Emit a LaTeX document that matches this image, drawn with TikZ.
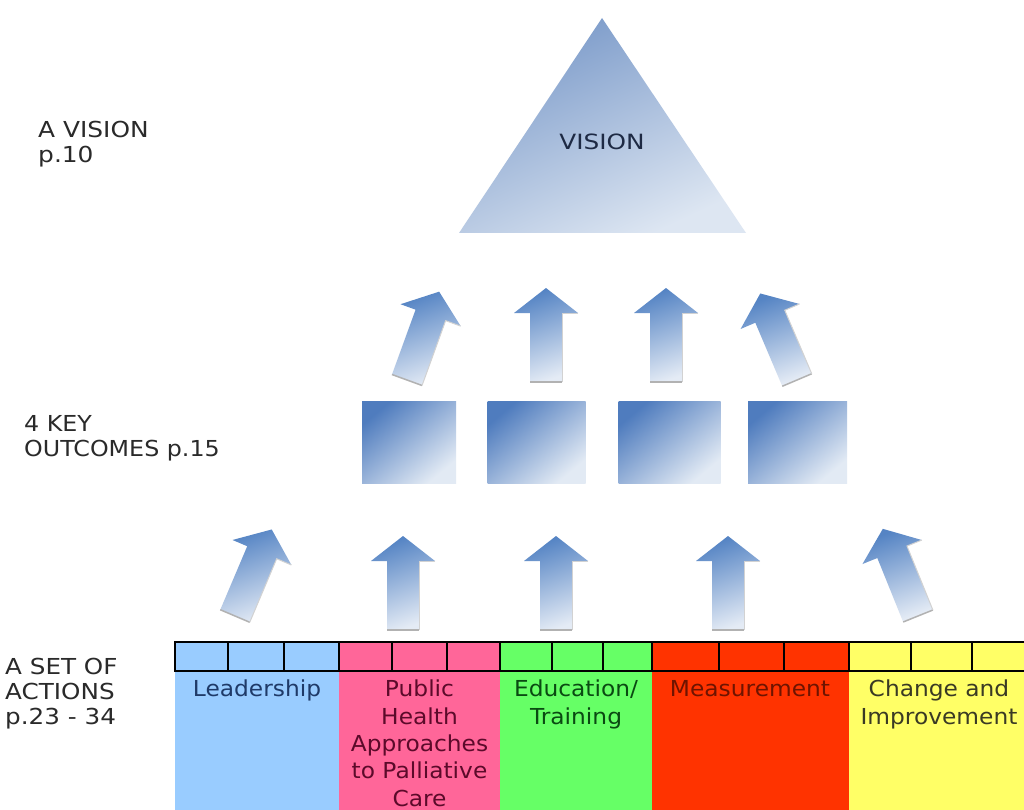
\documentclass[tikz,border=0pt]{standalone}
\usepackage{fontspec}
\setmainfont{DejaVu Sans}
\definecolor{labgray}{HTML}{2A2A2A}
\definecolor{tridark}{HTML}{7898C8}
\definecolor{trilight}{HTML}{DDE6F2}
\definecolor{boxdark}{HTML}{4F7CBE}
\definecolor{boxlight}{HTML}{E2EAF4}
\definecolor{arrdark}{HTML}{5584C4}
\definecolor{arrlight}{HTML}{E4EBF5}
\definecolor{cblue}{HTML}{99CCFF}
\definecolor{cpink}{HTML}{FF6699}
\definecolor{cgreen}{HTML}{66FF66}
\definecolor{cred}{HTML}{FF3300}
\definecolor{cyellow}{HTML}{FFFF66}
\definecolor{tblue}{HTML}{1F3A68}
\definecolor{tpink}{HTML}{5C0A2A}
\definecolor{tgreen}{HTML}{0A4A12}
\definecolor{tred}{HTML}{6E1400}
\definecolor{tyellow}{HTML}{3A3A24}
\definecolor{vistext}{HTML}{1E2A44}
\begin{document}
\begin{tikzpicture}[x=1pt,y=-1pt,
  lab/.style={font=\fontsize{22}{25}\selectfont, text=labgray, inner sep=0pt, anchor=north west, align=left, xscale=#1},
  lab/.default=1.06,
  coltext/.style={font=\fontsize{22}{27.3}\selectfont, inner sep=0pt, anchor=north, align=center, xscale=1.06},
  outbox/.style={draw=none, shade, top color=boxdark, bottom color=boxlight, shading angle=40, minimum width=#1, minimum height=82pt, inner sep=0pt},
  arrowshade/.style={shade, top color=arrdark, bottom color=arrlight, shading angle=20},
  cell/.style={draw=black, line width=1.3pt},
  uparrow/.pic={
    \shade[arrowshade] (-16,0) -- (-16,-69) -- (-32,-69) -- (0,-94) -- (32,-69) -- (16,-69) -- (16,0) -- cycle;
    \draw[gray!60, line width=1.5pt] (-16,0) -- (16,0);
    \draw[gray!35, line width=1pt] (16,0) -- (16,-69) -- (32,-69);
  }]
\useasboundingbox (0,0) rectangle (1024,810);
\fill[white] (0,0) rectangle (1024,810);

% triangle
\shade[top color=tridark, bottom color=trilight, shading angle=25] (602,18) -- (746,233) -- (459,233) -- cycle;
\node[font=\fontsize{21}{24}\selectfont, text=vistext, xscale=1.18] (vision) at (602,142) {VISION};

% left labels
\node[lab=1.13] (lvision) at (38,121) {A VISION\\p.10};
\node[lab=1.08] (lkey) at (24,415) {4 KEY\\OUTCOMES p.15};
\node[lab=1.12] (lact) at (5,658) {A SET OF\\ACTIONS\\p.23 - 34};

% outcome boxes
\node[outbox=94pt]  (o1) at (409,442) {};
\node[outbox=98pt]  (o2) at (536.5,442) {};
\node[outbox=102pt] (o3) at (669.5,442) {};
\node[outbox=99pt]  (o4) at (797.5,442) {};

% upper arrows
\pic[rotate=-20] at (407,380) {uparrow};
\pic at (546,382) {uparrow};
\pic at (666,382) {uparrow};
\pic[rotate=23] at (797,380) {uparrow};

% lower arrows
\pic[rotate=-23] at (235,616) {uparrow};
\pic at (403,630) {uparrow};
\pic at (556,630) {uparrow};
\pic at (728,630) {uparrow};
\pic[rotate=22] at (918,616) {uparrow};

% columns
\fill[cblue]   (175,642) rectangle (339,810);
\fill[cpink]   (339,642) rectangle (500,810);
\fill[cgreen]  (500,642) rectangle (652,810);
\fill[cred]    (652,642) rectangle (849,810);
\fill[cyellow] (849,642) rectangle (1024,810);

\draw[cell] (175,642) rectangle (1030,671);
\foreach \x in {228,284,339,392,447,500,552,603,652,719,784,849,911,972}
  \draw[cell] (\x,642) -- (\x,671);

\node[coltext, text=tblue]   (leader)  at (257,680) {Leadership};
\node[coltext, text=tpink]   (public)  at (419.5,680) {Public\\Health\\Approaches\\to Palliative\\Care};
\node[coltext, text=tgreen]  (edu)     at (576,680) {Education/\\Training};
\node[coltext, text=tred]    (measure) at (750,680) {Measurement};
\node[coltext, text=tyellow] (change)  at (939,680) {Change and\\Improvement};
\end{tikzpicture}
\end{document}
